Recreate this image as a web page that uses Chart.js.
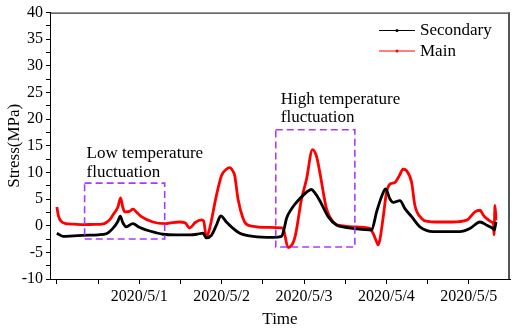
<!DOCTYPE html>
<html>
<head>
<meta charset="utf-8">
<script src="https://cdn.jsdelivr.net/npm/chart.js@4/dist/chart.umd.min.js"></script>
<style>
html,body{margin:0;padding:0;background:#fff;}
canvas{display:block;}
</style>
</head>
<body>
<canvas id="c" width="512" height="330"></canvas>
<script>
// ---- data (x in days since 2020/4/30 00:00, y in MPa) ----
const dateLabels = ['', '2020/5/1', '2020/5/2', '2020/5/3', '2020/5/4', '2020/5/5'];
const yTickValues = [-10,-7.5,-5,-2.5,0,2.5,5,7.5,10,12.5,15,17.5,20,22.5,25,27.5,30,32.5,35,37.5,40];
const xTickValues = [0,0.5,1,1.5,2,2.5,3,3.5,4,4.5,5];

const secDays = [0,0.073,0.2,0.316,0.5,0.6,0.68,0.74,0.77,0.8,0.842,0.923,1.0,1.086,1.2,1.288,1.45,1.612,1.7,1.774,1.815,1.876,1.937,1.989,2.058,2.139,2.22,2.382,2.625,2.727,2.76,2.787,2.85,2.909,2.989,3.091,3.13,3.192,3.293,3.395,3.5,3.638,3.82,3.881,3.95,3.99,4.043,4.083,4.164,4.225,4.306,4.407,4.569,4.893,5.014,5.136,5.217,5.29,5.31,5.33];
const secStress = [-1.4,-2.0,-1.9,-1.8,-1.7,-1.5,-0.5,0.8,1.8,0.6,-0.2,0.4,-0.3,-0.8,-1.3,-1.6,-1.7,-1.7,-1.6,-1.4,-2.3,-1.8,0.1,1.85,0.7,-0.5,-1.4,-2.0,-2.2,-2.0,-0.5,1.35,3.2,4.4,5.7,6.8,6.2,4.7,1.7,0.1,-0.3,-0.6,-0.8,2.6,5.8,6.9,5.0,4.4,4.7,3.2,1.7,-0.2,-1.1,-1.1,-0.5,0.7,0.1,-0.5,-0.8,0.7];

const mainDays = [0,0.02,0.053,0.106,0.2,0.316,0.458,0.55,0.6,0.65,0.68,0.741,0.774,0.8,0.823,0.883,0.923,0.97,1.026,1.166,1.309,1.4,1.491,1.56,1.612,1.68,1.755,1.782,1.815,1.855,1.937,1.998,2.058,2.098,2.135,2.159,2.199,2.26,2.3,2.382,2.55,2.727,2.746,2.807,2.888,2.97,3.03,3.103,3.152,3.192,3.273,3.374,3.45,3.597,3.8,3.84,3.881,3.9,3.921,3.96,4.002,4.043,4.103,4.15,4.204,4.246,4.306,4.346,4.428,4.5,4.61,4.8,4.974,5.075,5.136,5.176,5.217,5.278,5.3,5.306,5.318,5.33];
const mainStress = [3.5,1.8,0.8,0.4,0.3,0.2,0.25,0.3,0.6,1.3,2.0,3.5,5.2,3.5,2.6,2.7,3.1,2.5,1.7,0.7,0.4,0.6,0.7,0.5,-0.4,0.6,1.1,0.9,-2.2,-0.5,5.7,9.4,10.6,10.9,10.3,9.4,5.0,1.35,0.3,-0.1,-0.3,-0.4,-0.5,-4.1,-2.3,5.0,8.7,14.3,13.0,10.0,3.2,0.4,0.0,-0.2,-0.5,-1.5,-3.0,-3.6,-2.6,1.5,6.3,7.8,8.1,9.2,10.6,10.3,8.1,3.8,1.35,0.8,0.7,0.7,1.05,2.6,2.9,2.0,1.35,0.7,0.3,-1.7,3.8,1.0];

// annotation boxes in data units
const boxXs = [[0.337, 1.309], [2.657, 3.617]];
const boxYs = [[-2.5, 8.0], [-4.0, 18.0]];
const boxText = [['Low temperature', 'fluctuation'], ['High temperature', 'fluctuation']];
const textX = [0.36, 2.718];
const textY = [[12.8, 9.14], [22.9, 19.4]];

const FONT = 'Liberation Serif, Times New Roman, serif';

function toXY(xs, ys){ return xs.map((x,i)=>({x:x, y:ys[i]})); }

const overlay = {
  id: 'overlay',
  afterDatasetsDraw(chart){
    const ctx = chart.ctx;
    const xs = chart.scales.x, ys = chart.scales.y;
    const a = chart.chartArea;
    ctx.save();
    // frame top & right
    ctx.strokeStyle = '#000';
    ctx.lineWidth = 1;
    ctx.beginPath();
    ctx.moveTo(a.left, a.top + 0.5);
    ctx.lineTo(a.right, a.top + 0.5);
    ctx.stroke();
    ctx.strokeStyle = '#555';
    ctx.lineWidth = 2;
    ctx.beginPath();
    ctx.moveTo(a.right - 1, a.top);
    ctx.lineTo(a.right - 1, a.bottom);
    ctx.stroke();
    // boxes
    ctx.strokeStyle = 'rgb(165,60,250)';
    ctx.lineWidth = 1.6;
    ctx.setLineDash([7,4]);
    for (let i=0;i<boxXs.length;i++){
      const x1 = xs.getPixelForValue(boxXs[i][0]), x2 = xs.getPixelForValue(boxXs[i][1]);
      const y1 = ys.getPixelForValue(boxYs[i][1]), y2 = ys.getPixelForValue(boxYs[i][0]);
      ctx.strokeRect(x1, y1, x2-x1, y2-y1);
    }
    ctx.setLineDash([]);
    // texts
    ctx.fillStyle = '#000';
    ctx.font = '17px ' + FONT;
    ctx.textBaseline = 'alphabetic';
    ctx.textAlign = 'left';
    for (let i=0;i<boxText.length;i++){
      for (let j=0;j<boxText[i].length;j++){
        ctx.fillText(boxText[i][j], xs.getPixelForValue(textX[i]), ys.getPixelForValue(textY[i][j]));
      }
    }
    // legend
    const lx1 = 379, lx2 = 415, ly0 = 30, lstep = 20.5;
    chart.data.datasets.forEach((ds, k) => {
      const y = ly0 + k*lstep;
      ctx.strokeStyle = ds.borderColor;
      ctx.lineWidth = 1;
      ctx.beginPath();
      ctx.moveTo(lx1, y + 0.5);
      ctx.lineTo(lx2, y + 0.5);
      ctx.stroke();
      ctx.fillStyle = ds.borderColor;
      ctx.beginPath();
      ctx.arc((lx1+lx2)/2, y + 0.5, 1.5, 0, Math.PI*2);
      ctx.fill();
      ctx.fillStyle = '#000';
      ctx.font = '17px ' + FONT;
      ctx.textBaseline = 'middle';
      ctx.fillText(ds.label, 420, y + 1);
    });
    ctx.restore();
  }
};

new Chart(document.getElementById('c'), {
  type: 'line',
  data: {
    datasets: [
      { label: 'Secondary', data: toXY(secDays, secStress), borderColor: '#000000', backgroundColor: '#000000', borderWidth: 2.8, pointRadius: 0, cubicInterpolationMode: 'monotone' },
      { label: 'Main', data: toXY(mainDays, mainStress), borderColor: '#ff0000', backgroundColor: '#ff0000', borderWidth: 2.8, pointRadius: 0, cubicInterpolationMode: 'monotone' }
    ]
  },
  options: {
    responsive: false,
    animation: false,
    layout: { padding: { top: 6, right: 2, left: 0, bottom: 0 } },
    plugins: { legend: { display: false }, tooltip: { enabled: false } },
    scales: {
      x: {
        type: 'linear',
        min: -0.083, max: 5.5,
        afterBuildTicks(s){ s.ticks = xTickValues.map(v => ({ value: v })); },
        afterFit(s){ s.height = 51; },
        ticks: {
          autoSkip: false, maxRotation: 0, padding: 3,
          color: '#000', font: { family: FONT, size: 16 },
          callback: (v) => Number.isInteger(v) ? dateLabels[v] : ''
        },
        grid: { drawOnChartArea: false, drawTicks: true, tickLength: 5, color: '#000' },
        border: { color: '#000', width: 1 },
        title: { display: true, text: 'Time', color: '#000', font: { family: FONT, size: 17 }, padding: { top: 0, bottom: 0 } }
      },
      y: {
        min: -10, max: 40,
        afterBuildTicks(s){ s.ticks = yTickValues.map(v => ({ value: v })); },
        afterFit(s){ s.width = 50; },
        ticks: {
          autoSkip: false, padding: 3,
          color: '#000', font: { family: FONT, size: 16 },
          callback: (v) => (v % 5 === 0) ? String(v) : ''
        },
        grid: { drawOnChartArea: false, drawTicks: true, tickLength: 4, color: '#000' },
        border: { color: '#000', width: 1 },
        title: { display: true, text: 'Stress(MPa)', color: '#000', font: { family: FONT, size: 17 }, padding: { top: 4, bottom: 0 } }
      }
    }
  },
  plugins: [overlay]
});
</script>
</body>
</html>
